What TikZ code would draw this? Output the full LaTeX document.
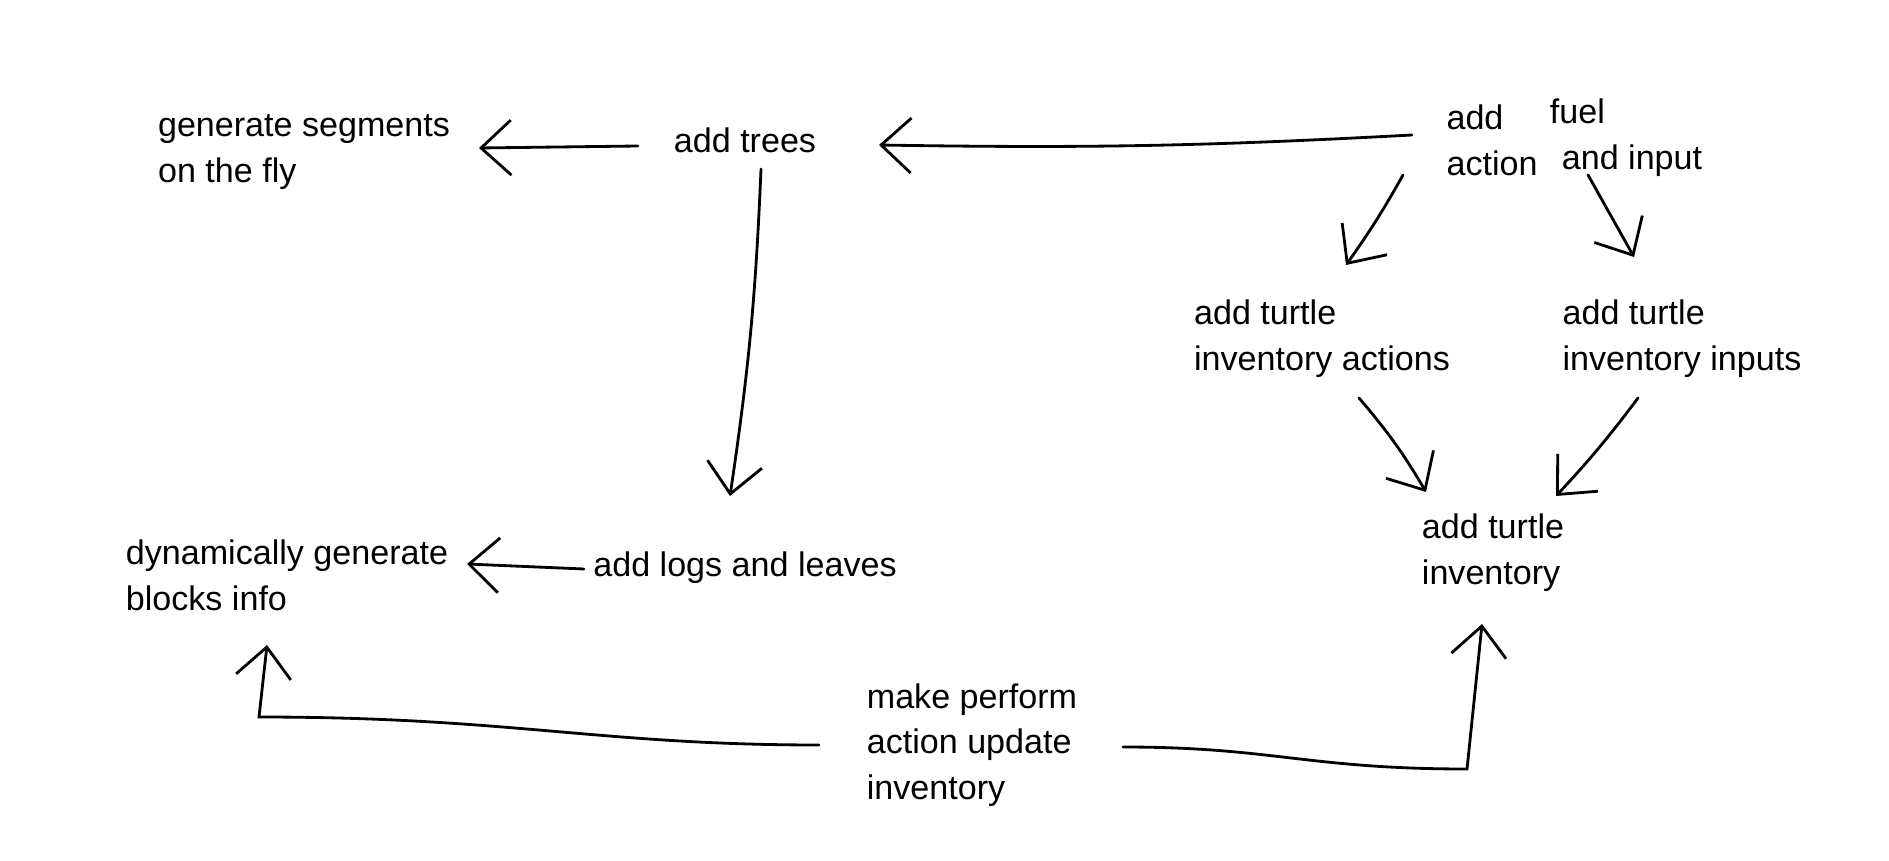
\documentclass[tikz,border=0pt]{standalone}
\usepackage{fontspec}
\setmainfont{Liberation Sans}
\usetikzlibrary{arrows.meta}

\begin{document}
\begin{tikzpicture}[->,>={Straight Barb[length=3mm,width=5.5mm]},thick,
  line cap=round,
  main node/.style={align=left,inner sep=0pt,font=\fontsize{9.7}{13}\selectfont}]

  \useasboundingbox (0,0) rectangle (18.89,8.6);

  \node[main node]  (1) at (3.04, 7.08) {generate segments\\on the fly};
  \node[main node]  (2) at (7.45, 7.20) {add trees};
  \node[main node]  (3) at (14.92, 7.20) {add\\action};
  \node[main node]  (4) at (16.26, 7.22) {fuel\\\hspace*{0.12cm}and input};
  \node[main node]  (5) at (13.22, 5.21) {add turtle\\inventory actions};
  \node[main node]  (6) at (16.82, 5.21) {add turtle\\inventory inputs};
  \node[main node]  (7) at (14.93, 3.07) {add turtle\\inventory};
  \node[main node]  (8) at (2.87, 2.85) {dynamically generate\\blocks info};
  \node[main node]  (9) at (7.45, 2.92) {add logs and leaves};
  \node[main node] (10) at (9.72, 1.15) {make perform\\action update\\inventory};

  \path
    ([shift={(-1.07,-0.06)}]2.center) edge ([shift={(1.75,0.04)}]1.center)
    ([shift={(-0.80,0.05)}]3.center) edge[bend left=2] ([shift={(1.34,-0.05)}]2.center)
    ([shift={(0.16,-0.29)}]2.center) edge[bend left=3] ([shift={(-0.15,0.72)}]9.center)
    ([shift={(-1.61,-0.01)}]9.center) edge ([shift={(1.80,0.11)}]8.center)
    ([shift={(-0.89,-0.35)}]3.center) edge[bend left=3] ([shift={(0.24,0.74)}]5.center)
    ([shift={(-0.38,-0.37)}]4.center) edge ([shift={(-0.48,0.82)}]6.center)
    ([shift={(0.37,-0.59)}]5.center) edge[bend left=5] ([shift={(-0.67,0.61)}]7.center)
    ([shift={(-0.44,-0.59)}]6.center) edge[bend left=3] ([shift={(0.63,0.57)}]7.center);

  % back to the left
  \draw ([shift={(-1.53,0.00)}]10.center)
    .. controls +(-2.2,0) and +(2.5,0) .. ([shift={(-0.28,-1.42)}]8.center)
    -- ([shift={(-0.20,-0.70)}]8.center);
  % and to the right
  \draw ([shift={(1.51,-0.02)}]10.center)
    .. controls +(1.5,0) and +(-1.6,0) .. ([shift={(-0.26,-2.16)}]7.center)
    -- ([shift={(-0.11,-0.71)}]7.center);

\end{tikzpicture}
\end{document}
